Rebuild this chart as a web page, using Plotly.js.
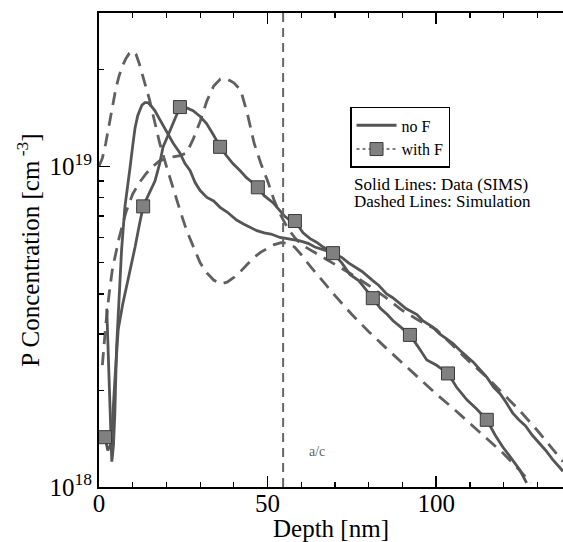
<!DOCTYPE html>
<html>
<head>
<meta charset="utf-8">
<script src="https://cdn.plot.ly/plotly-3.0.1.min.js"></script>
<style>html,body{margin:0;padding:0;background:#fff;}</style>
</head>
<body>
<div id="chart" style="width:563px;height:542px;"></div>
<script>
// ---- data (concentration in units of 1e18 cm^-3) ----
const noF_data_x = [2.3, 2.8, 3.3, 3.8, 4.3, 4.7, 5.2, 5.7, 6.2, 6.7, 7.7, 8.5, 9.2, 10.0, 10.7, 11.5, 12.7, 13.6, 14.5, 15.5, 16.6, 18.0, 20.0, 22.0, 24.0, 25.5, 27.0, 28.5, 30.0, 32.0, 34.0, 35.9, 38.0, 40.8, 43.0, 45.0, 46.8, 49.0, 51.0, 53.7, 56.0, 58.0, 59.6, 62.0, 64.0, 67.6, 70.0, 72.0, 74.0, 76.0, 78.0, 81.2, 83.0, 85.3, 87.0, 89.0, 91.0, 94.3, 96.0, 99.0, 101.0, 103.0, 105.0, 107.0, 109.0, 111.0, 113.0, 115.0, 117.0, 119.0, 120.5, 122.7, 124.5, 126.5, 128.5, 130.7, 132.5, 134.5, 136.7, 137.6];
const noF_data_y = [3.6, 2.6, 1.8, 1.2, 1.35, 1.7, 2.7, 3.5, 4.4, 5.5, 7.5, 8.6, 9.9, 11.6, 13.2, 14.4, 15.5, 15.8, 15.8, 15.4, 14.9, 14.0, 12.9, 11.8, 11.0, 10.2, 9.7, 8.9, 8.4, 8.0, 7.8, 7.45, 7.2, 6.8, 6.6, 6.45, 6.3, 6.2, 6.15, 6.0, 5.95, 5.9, 5.85, 5.75, 5.6, 5.45, 5.3, 5.2, 5.0, 4.85, 4.7, 4.4, 4.25, 4.0, 3.9, 3.75, 3.6, 3.45, 3.3, 3.15, 3.0, 2.9, 2.8, 2.67, 2.55, 2.45, 2.32, 2.2, 2.05, 1.95, 1.85, 1.7, 1.62, 1.55, 1.45, 1.37, 1.3, 1.22, 1.15, 1.12];

const withF_data_x = [1.8, 2.6, 3.4, 4.0, 4.7, 5.7, 7.0, 8.2, 9.5, 10.7, 12.0, 13.1, 14.8, 16.6, 18.0, 19.0, 20.2, 21.5, 22.8, 24.0, 26.0, 27.9, 30.0, 31.9, 34.0, 35.9, 37.8, 39.7, 41.8, 43.8, 45.5, 47.1, 49.0, 51.6, 53.5, 55.0, 56.5, 58.1, 60.5, 62.6, 64.5, 66.5, 69.4, 72.0, 74.4, 77.0, 79.0, 81.2, 83.5, 85.5, 87.2, 89.5, 92.2, 94.5, 97.2, 100.0, 103.5, 106.0, 109.1, 112.0, 115.0, 117.5, 119.8, 122.5, 124.8, 126.8];
const withF_data_y = [1.43, 1.3, 1.35, 1.6, 2.15, 3.1, 3.7, 4.2, 4.9, 5.6, 6.6, 7.5, 8.2, 9.0, 10.2, 11.5, 12.3, 13.2, 14.3, 15.3, 15.2, 14.9, 14.3, 13.6, 12.5, 11.5, 10.8, 10.2, 9.7, 9.2, 8.9, 8.6, 8.1, 7.7, 7.3, 7.0, 6.8, 6.75, 6.2, 5.95, 5.8, 5.6, 5.36, 5.0, 4.6, 4.4, 4.15, 3.88, 3.6, 3.45, 3.3, 3.15, 2.98, 2.75, 2.49, 2.4, 2.26, 2.05, 1.87, 1.75, 1.62, 1.45, 1.33, 1.22, 1.13, 1.03];

const withF_marker_x = [1.8, 13.1, 24.0, 35.9, 47.1, 58.1, 69.4, 81.2, 92.2, 103.5, 115.0];
const withF_marker_y = [1.43, 7.5, 15.3, 11.5, 8.6, 6.75, 5.36, 3.88, 2.98, 2.26, 1.62];

const noF_sim_x = [0, 1, 2, 3, 4, 5, 6, 7, 8, 9, 10, 11, 12, 13, 14, 15, 16, 17, 18, 20, 22, 24, 26, 28, 30, 32, 34, 36, 38, 40, 42, 44, 46, 48, 50, 52, 54, 56, 58, 60, 62.5, 65, 70, 75, 80, 85, 90, 95, 100, 105, 110, 115, 120, 125, 128];
const noF_sim_y = [10.0, 10.6, 11.8, 13.5, 15.6, 17.5, 19.2, 20.6, 21.7, 22.5, 22.9, 22.3, 20.8, 19.2, 17.6, 16.1, 14.5, 13.0, 11.8, 10.0, 8.5, 7.3, 6.3, 5.6, 5.0, 4.65, 4.42, 4.3, 4.35, 4.5, 4.7, 4.95, 5.2, 5.4, 5.55, 5.7, 5.78, 5.75, 5.6, 5.3, 4.9, 4.55, 3.95, 3.45, 3.05, 2.72, 2.43, 2.18, 1.95, 1.76, 1.58, 1.42, 1.27, 1.12, 1.03];

const withF_sim_x = [1, 2, 3, 4, 6, 8, 10, 12, 14, 16, 18, 20, 22, 24, 26, 28, 30, 32, 34, 36, 37, 38, 40, 42, 44, 46, 48, 50, 52, 54, 56, 58, 60, 65, 70, 75, 80, 85, 90, 95, 100, 105, 110, 115, 120, 125, 130, 135, 137.6];
const withF_sim_y = [2.4, 3.2, 4.0, 4.8, 6.0, 7.2, 8.2, 8.9, 9.5, 10.0, 10.4, 10.6, 10.7, 10.8, 11.0, 12.2, 13.8, 16.0, 17.8, 18.7, 18.8, 18.7, 18.2, 17.3, 14.6, 11.8, 10.2, 9.0, 7.8, 7.0, 6.4, 6.0, 5.7, 5.3, 4.95, 4.6, 4.25, 3.9, 3.55, 3.3, 3.1, 2.75, 2.45, 2.2, 1.95, 1.72, 1.5, 1.3, 1.2];

const acInterfaceDepth = 54.6;
const unit = 1e18;
const toConc = arr => arr.map(v => v * unit);

const serif = '"Liberation Serif", "Times New Roman", serif';
const solidColor = '#555555';
const dashColor = '#606060';

const traces = [
  {x: noF_sim_x, y: toConc(noF_sim_y), mode: 'lines', showlegend: false,
   line: {color: dashColor, width: 2.8, dash: '13px,8px'}},
  {x: withF_sim_x, y: toConc(withF_sim_y), mode: 'lines', showlegend: false,
   line: {color: dashColor, width: 2.8, dash: '13px,8px'}},
  {x: noF_data_x, y: toConc(noF_data_y), mode: 'lines', name: 'no F',
   line: {color: solidColor, width: 2.8}},
  {x: withF_data_x, y: toConc(withF_data_y), mode: 'lines', showlegend: false,
   line: {color: solidColor, width: 2.8}},
  {x: withF_marker_x, y: toConc(withF_marker_y), mode: 'markers', showlegend: false,
   marker: {symbol: 'square', size: 13, color: '#808080', line: {color: '#3a3a3a', width: 1}}},
  {x: [null], y: [null], mode: 'lines+markers', name: 'with F',
   line: {color: solidColor, width: 1.5, dash: 'dot'},
   marker: {symbol: 'square', size: 13, color: '#808080', line: {color: '#3a3a3a', width: 1}}}
];

const layout = {
  width: 563, height: 542,
  margin: {l: 99, r: 0, t: 13, b: 55},
  paper_bgcolor: '#ffffff', plot_bgcolor: '#ffffff',
  font: {family: serif, color: '#000'},
  xaxis: {
    range: [0, 137.6], tickvals: [0, 50, 100], ticks: 'inside', ticklen: 11, tickwidth: 1.5,
    tickcolor: '#000', showline: true, linecolor: '#000', linewidth: 2, mirror: 'ticks',
    showgrid: false, zeroline: false, tickfont: {size: 25, family: serif},
    ticklabelstandoff: -7,
    minor: {dtick: 10, ticks: 'inside', ticklen: 5, tickwidth: 1.2, tickcolor: '#000', showgrid: false},
    title: {text: 'Depth [nm]', font: {size: 25, family: serif}, standoff: 2},
    automargin: false
  },
  yaxis: {
    type: 'log', range: [18, 19.478],
    tickmode: 'array', tickvals: [1e18, 1e19], ticktext: ['10<sup>18</sup>', '10<sup>19</sup>'],
    ticks: 'inside', ticklen: 11, tickwidth: 1.5, tickcolor: '#000',
    showline: true, linecolor: '#000', linewidth: 2, mirror: false,
    showgrid: false, zeroline: false, tickfont: {size: 25, family: serif},
    minor: {tickmode: 'array', tickvals: [2e18,3e18,4e18,5e18,6e18,7e18,8e18,9e18,2e19,3e19],
            ticks: 'inside', ticklen: 5, tickwidth: 1.2, tickcolor: '#000', showgrid: false},
    title: {text: 'P Concentration [cm<sup> -3</sup>]', font: {size: 25, family: serif}, standoff: 3},
    automargin: false
  },
  legend: {
    x: 0.541, y: 0.802, xanchor: 'left', yanchor: 'top',
    bgcolor: '#ffffff', bordercolor: '#000', borderwidth: 1.5,
    font: {size: 16, family: serif, color: '#000'}, itemwidth: 40, tracegroupgap: 0
  },
  shapes: [
    {type: 'line', xref: 'x', yref: 'paper', x0: acInterfaceDepth, x1: acInterfaceDepth, y0: 0, y1: 1,
     line: {color: '#666', width: 2, dash: '9px,6px'}}
  ],
  annotations: [
    {xref: 'paper', yref: 'paper', x: 0.5446, y: 0.639, xanchor: 'left', yanchor: 'middle',
     text: 'Solid Lines: Data (SIMS)', showarrow: false, font: {size: 17, family: serif, color: '#000'}},
    {xref: 'paper', yref: 'paper', x: 0.5446, y: 0.602, xanchor: 'left', yanchor: 'middle',
     text: 'Dashed Lines: Simulation', showarrow: false, font: {size: 17, family: serif, color: '#000'}},
    {xref: 'x', yref: 'y', x: 64.5, y: 18.11, text: 'a/c', showarrow: false,
     font: {size: 14, family: serif, color: '#666'}}
  ]
};

Plotly.newPlot('chart', traces, layout, {displayModeBar: false, staticPlot: true});
</script>
</body>
</html>
